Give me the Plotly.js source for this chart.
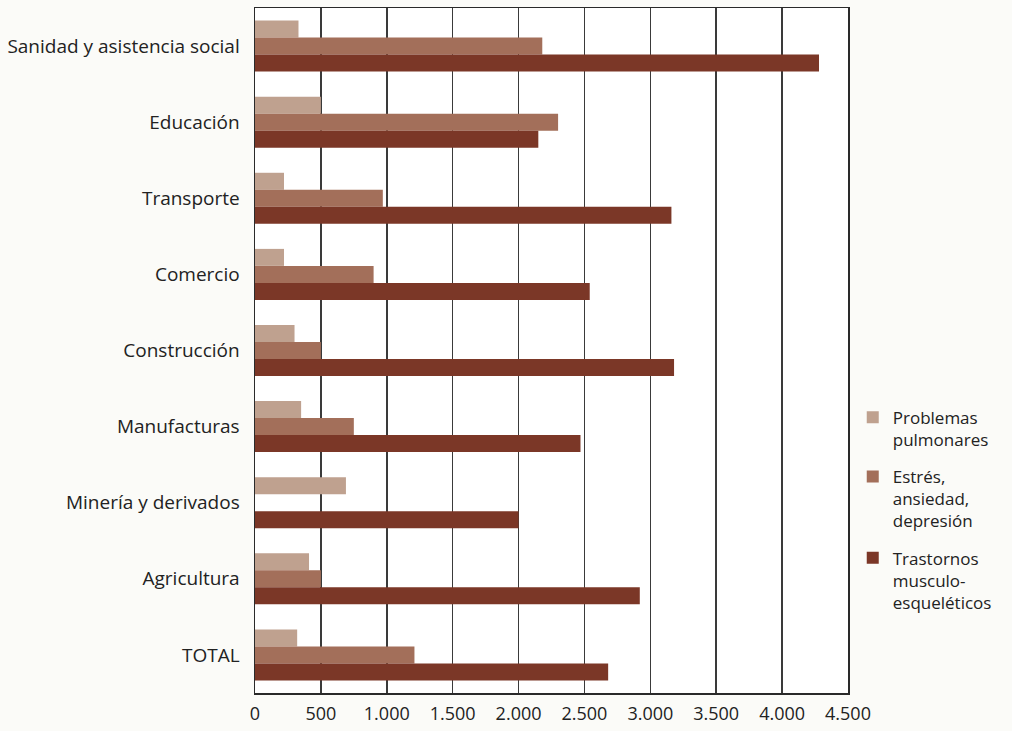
<!DOCTYPE html>
<html>
<head>
<meta charset="utf-8">
<script src="https://cdn.plot.ly/plotly-3.0.1.min.js"></script>
<style>
  html, body { margin: 0; padding: 0; background: #fbfbf8; }
  #chart { width: 1012px; height: 731px; }
</style>
</head>
<body>
<div id="chart"></div>
<script>
// Sectores (de arriba abajo)
const sectores = [
  'Sanidad y asistencia social',
  'Educación',
  'Transporte',
  'Comercio',
  'Construcción',
  'Manufacturas',
  'Minería y derivados',
  'Agricultura',
  'TOTAL'
];

// Casos por tipo de enfermedad laboral
const pulmonares   = [330, 500, 220, 220, 300, 350, 690, 410, 320];
const estres       = [2180, 2300, 970, 900, 500, 750, 0, 500, 1210];
const musculares   = [4280, 2150, 3160, 2540, 3180, 2470, 2000, 2920, 2680];

const nombres = [
  'Problemas<br>pulmonares',
  'Estrés,<br>ansiedad,<br>depresión',
  'Trastornos<br>musculo-<br>esqueléticos'
];

const ticksX = [0, 500, 1000, 1500, 2000, 2500, 3000, 3500, 4000, 4500];
const etiquetasX = ['0', '500', '1.000', '1.500', '2.000', '2.500', '3.000', '3.500', '4.000', '4.500'];

const colores = ['#bfa18f', '#a36f5a', '#7b3727'];
const series = [pulmonares, estres, musculares];

const data = series.map((vals, i) => ({
  type: 'bar',
  orientation: 'h',
  y: sectores,
  x: vals,
  name: nombres[i],
  legendgroup: 'g' + i,
  marker: { color: colores[i], line: { width: 0 } },
  hoverinfo: 'x+y'
}));

const layout = {
  width: 1012,
  height: 731,
  paper_bgcolor: '#fbfbf8',
  plot_bgcolor: '#ffffff',
  font: { family: 'Open Sans, Noto Sans, sans-serif', size: 18, color: '#222' },
  margin: { l: 255, r: 164, t: 8, b: 38 },
  barmode: 'group',
  bargap: 0.33,
  bargroupgap: 0,
  showlegend: true,
  legend: {
    x: 1.008,
    xanchor: 'left',
    y: 0.428,
    yanchor: 'top',
    valign: 'top',
    traceorder: 'grouped',
    tracegroupgap: 12,
    font: { size: 17, color: '#222' },
    bgcolor: 'rgba(0,0,0,0)'
  },
  xaxis: {
    range: [0, 4500],
    tickvals: ticksX,
    ticktext: etiquetasX,
    showgrid: true,
    gridcolor: '#3a3a3a',
    gridwidth: 1.5,
    zeroline: false,
    showline: true,
    linecolor: '#2a2a2a',
    linewidth: 1.5,
    mirror: true,
    ticks: '',
    ticklabelstandoff: 4,
    tickfont: { size: 18, color: '#222' },
    fixedrange: true
  },
  yaxis: {
    type: 'category',
    autorange: 'reversed',
    showgrid: false,
    zeroline: false,
    showline: true,
    linecolor: '#2a2a2a',
    linewidth: 1.5,
    mirror: true,
    ticks: '',
    ticklabelstandoff: 10,
    tickfont: { size: 19, color: '#222' },
    fixedrange: true
  }
};

Plotly.newPlot('chart', data, layout, { displayModeBar: false, staticPlot: true });
</script>
</body>
</html>
